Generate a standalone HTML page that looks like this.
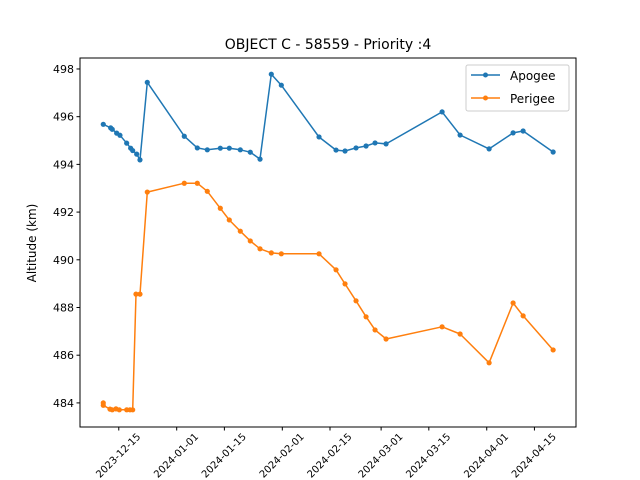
<!DOCTYPE html>
<html><head><meta charset="utf-8">
<style>
html,body{margin:0;padding:0;background:#fff;}
svg{display:block;font-family:"DejaVu Sans","Liberation Sans",sans-serif;}
</style></head>
<body>
<svg id="chart" width="640" height="480" viewBox="0 0 640 480" xmlns="http://www.w3.org/2000/svg">
<rect width="640" height="480" fill="#fff"/>
<text x="328" y="49" text-anchor="middle" font-size="14">OBJECT C - 58559 - Priority :4</text>
<text transform="translate(36,243) rotate(-90)" text-anchor="middle" font-size="12">Altitude (km)</text>
<g id="plot"></g>
<rect x="80" y="58" width="496" height="369" fill="none" stroke="#000" stroke-width="1"/>
<g>
<rect x="466" y="65" width="103" height="46" rx="2" fill="#fff" fill-opacity="0.8" stroke="#ccc"/>
<g>
<line x1="471" y1="75" x2="500" y2="75" stroke="#1f77b4" stroke-width="1.5"/><circle cx="485.5" cy="75" r="2.5" fill="#1f77b4"/>
<text x="510" y="80" font-size="12">Apogee</text></g>
<g>
<line x1="471" y1="98" x2="500" y2="98" stroke="#ff7f0e" stroke-width="1.5"/><circle cx="485.5" cy="98" r="2.5" fill="#ff7f0e"/>
<text x="510" y="103" font-size="12">Perigee</text></g>
</g>
</svg>
<script>
// days since 2023-12-15
const apogeeDays=[-4.55,-2.38,-1.91,-0.62,0.35,2.32,3.49,4.08,5.26,6.22,8.37,19.23,23.05,25.98,29.8,32.44,35.67,38.6,41.46,44.77,47.71,58.78,63.77,66.41,69.64,72.58,75.22,78.45,94.9,100.18,108.7,115.74,118.68,127.49];
const apogeeAlt=[495.68,495.53,495.47,495.31,495.22,494.89,494.68,494.58,494.43,494.19,497.44,495.18,494.69,494.61,494.68,494.68,494.61,494.51,494.22,497.78,497.32,495.15,494.6,494.56,494.69,494.77,494.9,494.86,496.2,495.23,494.65,495.32,495.4,494.52];
const perigeeDays=[-4.55,-4.55,-2.58,-1.91,-0.82,0.15,2.32,3.29,4.08,5.05,6.22,8.37,19.23,23.05,25.98,29.8,32.44,35.67,38.6,41.46,44.77,47.71,58.78,63.77,66.41,69.64,72.58,75.22,78.45,94.9,100.18,108.7,115.74,118.68,127.49];
const perigeeAlt=[484.0,483.9,483.74,483.71,483.75,483.71,483.71,483.71,483.71,488.56,488.56,492.84,493.21,493.21,492.87,492.16,491.67,491.2,490.79,490.46,490.29,490.25,490.25,489.58,488.99,488.28,487.61,487.06,486.68,487.19,486.89,485.68,488.19,487.65,486.22];
const yTicks=[484,486,488,490,492,494,496,498];
const xTickLabels=["2023-12-15","2024-01-01","2024-01-15","2024-02-01","2024-02-15","2024-03-01","2024-03-15","2024-04-01","2024-04-15"];
const xTickDays=[0,17,31,48,62,77,91,108,122];

const X0=80,X1=576,Y0=58,Y1=427;
const dMin=-11.38,dMax=134.2,vMin=482.99,vMax=498.46;
function sx(d){return X0+(d-dMin)/(dMax-dMin)*(X1-X0);}
function sy(v){return Y1-(v-vMin)/(vMax-vMin)*(Y1-Y0);}
const NS="http://www.w3.org/2000/svg";
const plot=document.getElementById('plot');
function mk(tag,attrs,parent){const e=document.createElementNS(NS,tag);for(const k in attrs)e.setAttribute(k,attrs[k]);(parent||plot).appendChild(e);return e;}

yTicks.forEach(v=>{
  const y=sy(v);
  const t=mk('line',{x1:X0-3.5,x2:X0,y1:y,y2:y,stroke:'#000'});
  
  
  const l=mk('text',{x:X0-6,y:y+4,'text-anchor':'end','font-size':'11'});
  l.textContent=v;
  
  
});
xTickDays.forEach((d,i)=>{
  const x=sx(d);
  const t=mk('line',{x1:x,x2:x,y1:Y1,y2:Y1+3.5,stroke:'#000'});
  
  
  const l=mk('text',{transform:`translate(${x},${Y1+29}) rotate(-45)`,'text-anchor':'middle','dominant-baseline':'central','font-size':'10'});
  l.textContent=xTickLabels[i];
  
  
});
function series(days,vals,color,name){
  const pts=days.map((d,i)=>sx(d).toFixed(1)+','+sy(vals[i]).toFixed(1)).join(' ');
  const pl=mk('polyline',{points:pts,fill:'none',stroke:color,'stroke-width':'1.5','stroke-linejoin':'round'});
  
  
  days.forEach((d,i)=>{
    const c=mk('circle',{cx:sx(d),cy:sy(vals[i]),r:2.6,fill:color});
    
    
  });
}
series(apogeeDays,apogeeAlt,'#1f77b4','apogee');
series(perigeeDays,perigeeAlt,'#ff7f0e','perigee');
</script>
</body></html>
